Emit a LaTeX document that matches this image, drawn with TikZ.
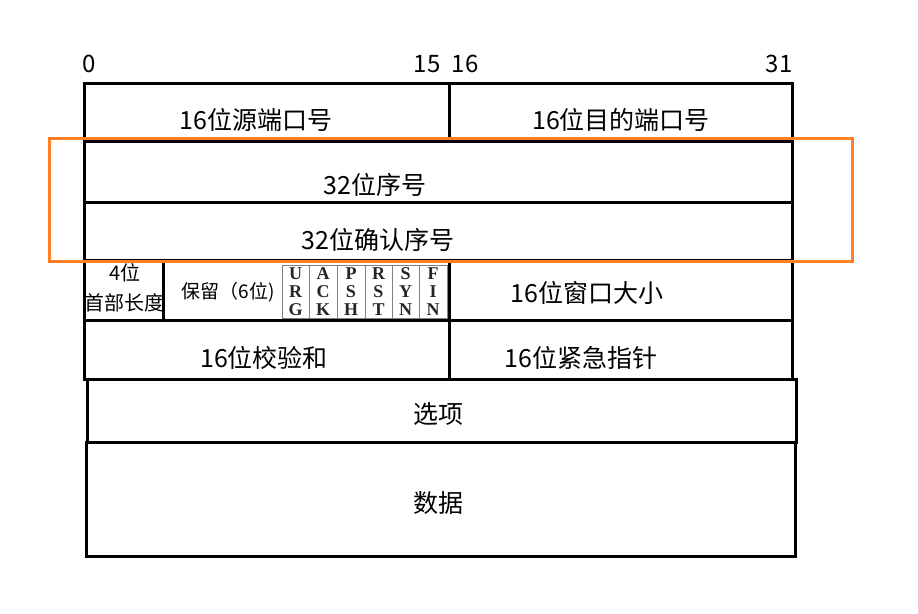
\documentclass[tikz,border=0pt]{standalone}
\usepackage{fontspec}
\newfontfamily\cjk{Noto Sans CJK SC}
\newfontfamily\flagfont{Liberation Serif}
\definecolor{hiorange}{RGB}{255,127,39}
\definecolor{flaggray}{RGB}{130,130,130}
\tikzset{
  cell/.style={draw=black, line width=3pt},
  lbl/.style={font=\cjk\fontsize{25}{28}\selectfont, inner sep=0pt},
  small/.style={font=\cjk\fontsize{20}{22}\selectfont, inner sep=0pt},
  tiny/.style={font=\cjk\fontsize{19}{21}\selectfont, inner sep=0pt},
  bitnum/.style={font=\cjk\fontsize{24}{26}\selectfont, inner sep=0pt},
  flagbox/.style={draw=flaggray, line width=1pt},
  flagletter/.style={font=\flagfont\bfseries\fontsize{18}{18}\selectfont, inner sep=0pt, text=black!85},
}
\begin{document}
\begin{tikzpicture}[x=1pt,y=-1pt]
\useasboundingbox (0,0) rectangle (918,613);
\fill[white] (0,0) rectangle (918,613);
% bit numbers
\node[bitnum] (b0) at (89,64) {0};
\node[bitnum] (b15) at (427,64) {15};
\node[bitnum] (b16) at (465,64) {16};
\node[bitnum] (b31) at (779,64) {31};
% rows
\draw[cell] (84,83) rectangle (449,141);
\draw[cell] (449,83) rectangle (792,141);
\draw[cell] (84,141) rectangle (792,202);
\draw[cell] (84,202) rectangle (792,260);
\draw[cell] (84,260) rectangle (792,320);
\draw[cell] (163,260) -- (163,320);
\draw[cell] (449,260) -- (449,320);
\draw[cell] (84,320) rectangle (449,379);
\draw[cell] (449,320) rectangle (792,379);
\draw[cell] (87,379) rectangle (796,442);
\draw[cell] (86,442) rectangle (795,556);
% flag boxes
\foreach \xa/\xb in {282/309, 309/337, 337/365, 365/392, 392/419, 419/447}
  \draw[flagbox] (\xa,265) rectangle (\xb,318);
% flag letters
\foreach \x/\a/\b/\c [count=\i] in {295.5/U/R/G, 323/A/C/K, 351/P/S/H, 378.5/R/S/T, 405.5/S/Y/N, 433/F/I/N} {
  \node[flagletter] (fa\i) at (\x,274) {\a};
  \node[flagletter] (fb\i) at (\x,292) {\b};
  \node[flagletter] (fc\i) at (\x,310) {\c};
}
% labels
\node[lbl] (src) at (256,120) {16位源端口号};
\node[lbl] (dst) at (621,120) {16位目的端口号};
\node[lbl] (seq) at (375,185) {32位序号};
\node[lbl] (ack) at (378,240) {32位确认序号};
\node[small] (hl1) at (125,273) {4位};
\node[small] (hl2) at (124,303) {首部长度};
\node[tiny] (rsv) at (228,292) {保留（6位)};
\node[lbl] (win) at (587,293) {16位窗口大小};
\node[lbl] (chk) at (264,358) {16位校验和};
\node[lbl] (urg) at (581,358) {16位紧急指针};
\node[lbl] (opt) at (438,414) {选项};
\node[lbl] (dat) at (438,503) {数据};
% highlight
\draw[hiorange, line width=3pt] (49,138) rectangle (852,261);
\end{tikzpicture}
\end{document}
